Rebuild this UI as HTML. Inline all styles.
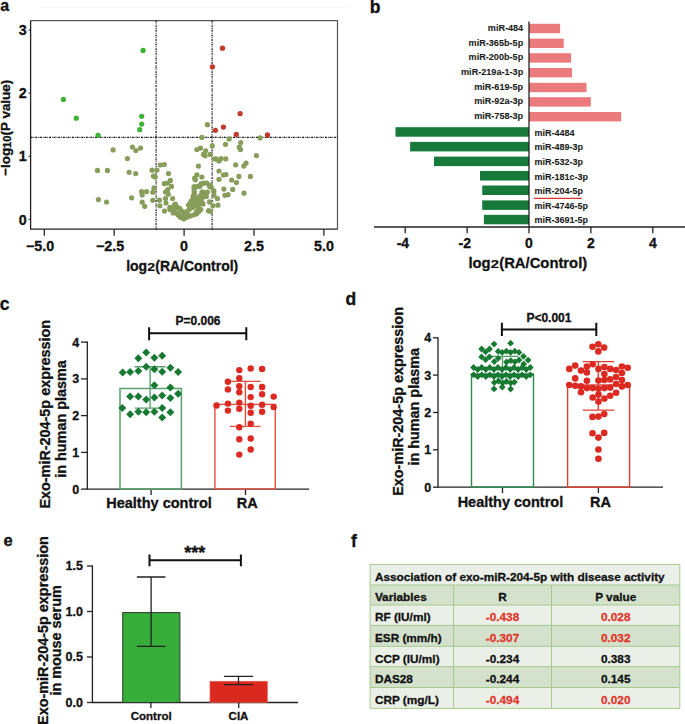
<!DOCTYPE html>
<html><head><meta charset="utf-8"><style>
html,body{margin:0;padding:0;background:#fff;}
svg{display:block;}
text{stroke:#111;stroke-width:0.3px;}
text.r{stroke:#e0352b;}
text.s{stroke-width:0.08px;}
</style></head><body>
<svg width="685" height="724" viewBox="0 0 685 724" font-family="Liberation Sans, sans-serif" font-weight="bold">
<rect width="685" height="724" fill="#fff"/>
<text x="0.3" y="11.1" font-size="16" text-anchor="start" fill="#111" >a</text>
<text x="369.8" y="12.8" font-size="17.5" text-anchor="start" fill="#111" >b</text>
<text x="-0.2" y="309.6" font-size="17.5" text-anchor="start" fill="#111" >c</text>
<text x="345.6" y="305.2" font-size="17.5" text-anchor="start" fill="#111" >d</text>
<text x="3.4" y="546.4" font-size="16.5" text-anchor="start" fill="#111" >e</text>
<text x="351.0" y="547.4" font-size="17.5" text-anchor="start" fill="#111" >f</text>
<line x1="39" y1="7.3" x2="347" y2="7.3" stroke="#f5f5f5" stroke-width="1"/>
<path d="M30.6 20.6H337.5V229.2" fill="none" stroke="#555" stroke-width="1.2"/>
<path d="M30.6 20.6V229.2H337.5" fill="none" stroke="#222" stroke-width="1.3"/>
<line x1="156.1" y1="20.6" x2="156.1" y2="229.2" stroke="#111" stroke-width="1.15" stroke-dasharray="2 0.9 0.8 0.9"/>
<line x1="212.1" y1="20.6" x2="212.1" y2="229.2" stroke="#111" stroke-width="1.15" stroke-dasharray="2 0.9 0.8 0.9"/>
<line x1="30.6" y1="137.3" x2="337.5" y2="137.3" stroke="#111" stroke-width="1.15" stroke-dasharray="2 0.9 0.8 0.9"/>
<line x1="44.3" y1="229.2" x2="44.3" y2="235.7" stroke="#222" stroke-width="1.3"/>
<text x="40.1" y="251.2" font-size="14.3" text-anchor="middle" fill="#111" >−5.0</text>
<line x1="114.2" y1="229.2" x2="114.2" y2="235.7" stroke="#222" stroke-width="1.3"/>
<text x="110.0" y="251.2" font-size="14.3" text-anchor="middle" fill="#111" >−2.5</text>
<line x1="184.1" y1="229.2" x2="184.1" y2="235.7" stroke="#222" stroke-width="1.3"/>
<text x="184.1" y="251.2" font-size="14.3" text-anchor="middle" fill="#111" >0</text>
<line x1="254.0" y1="229.2" x2="254.0" y2="235.7" stroke="#222" stroke-width="1.3"/>
<text x="254.0" y="251.2" font-size="14.3" text-anchor="middle" fill="#111" >2.5</text>
<line x1="323.9" y1="229.2" x2="323.9" y2="235.7" stroke="#222" stroke-width="1.3"/>
<text x="323.9" y="251.2" font-size="14.3" text-anchor="middle" fill="#111" >5.0</text>
<line x1="28.6" y1="219.4" x2="30.6" y2="219.4" stroke="#222" stroke-width="1"/>
<text x="26.8" y="224.5" font-size="14.3" text-anchor="end" fill="#111" >0</text>
<line x1="28.6" y1="156.3" x2="30.6" y2="156.3" stroke="#222" stroke-width="1"/>
<text x="26.8" y="161.4" font-size="14.3" text-anchor="end" fill="#111" >1</text>
<line x1="28.6" y1="93.2" x2="30.6" y2="93.2" stroke="#222" stroke-width="1"/>
<text x="26.8" y="98.3" font-size="14.3" text-anchor="end" fill="#111" >2</text>
<line x1="28.6" y1="30.1" x2="30.6" y2="30.1" stroke="#222" stroke-width="1"/>
<text x="26.8" y="35.2" font-size="14.3" text-anchor="end" fill="#111" >3</text>
<g transform="translate(126.2 271.2) scale(0.963 1)" fill="#111" font-size="14.5"><text x="0" y="0">log</text><text transform="translate(21.75 0) scale(1 0.74)">2</text><text x="30.2" y="0">(RA/Control)</text></g>
<text transform="translate(10.4 175.8) rotate(-90)" font-size="13.4" fill="#111">−log<tspan font-size="11.2" dy="0.7">10</tspan><tspan dy="-0.7">(P value)</tspan></text>
<circle cx="113.1" cy="149.9" r="2.6" fill="#879d5a"/>
<circle cx="132.4" cy="147.0" r="2.6" fill="#879d5a"/>
<circle cx="135.9" cy="150.5" r="2.6" fill="#879d5a"/>
<circle cx="140.5" cy="148.1" r="2.6" fill="#879d5a"/>
<circle cx="127.4" cy="158.6" r="2.6" fill="#879d5a"/>
<circle cx="97.5" cy="170.4" r="2.6" fill="#879d5a"/>
<circle cx="107.4" cy="170.4" r="2.6" fill="#879d5a"/>
<circle cx="98.4" cy="199.6" r="2.6" fill="#879d5a"/>
<circle cx="106.5" cy="202.0" r="2.6" fill="#879d5a"/>
<circle cx="129.1" cy="172.3" r="2.6" fill="#879d5a"/>
<circle cx="135.7" cy="173.6" r="2.6" fill="#879d5a"/>
<circle cx="152.1" cy="170.2" r="2.6" fill="#879d5a"/>
<circle cx="153.4" cy="176.1" r="2.6" fill="#879d5a"/>
<circle cx="131.6" cy="197.8" r="2.6" fill="#879d5a"/>
<circle cx="141.6" cy="191.6" r="2.6" fill="#879d5a"/>
<circle cx="146.5" cy="191.6" r="2.6" fill="#879d5a"/>
<circle cx="142.2" cy="195.0" r="2.6" fill="#879d5a"/>
<circle cx="142.2" cy="202.2" r="2.6" fill="#879d5a"/>
<circle cx="144.7" cy="206.3" r="2.6" fill="#879d5a"/>
<circle cx="152.8" cy="192.2" r="2.6" fill="#879d5a"/>
<circle cx="154.0" cy="187.9" r="2.6" fill="#879d5a"/>
<circle cx="152.8" cy="200.3" r="2.6" fill="#879d5a"/>
<circle cx="160.3" cy="165.0" r="2.6" fill="#879d5a"/>
<circle cx="164.3" cy="164.5" r="2.6" fill="#879d5a"/>
<circle cx="157.0" cy="170.0" r="2.6" fill="#879d5a"/>
<circle cx="155.3" cy="177.1" r="2.6" fill="#879d5a"/>
<circle cx="168.5" cy="173.6" r="2.6" fill="#879d5a"/>
<circle cx="170.4" cy="180.4" r="2.6" fill="#879d5a"/>
<circle cx="164.4" cy="183.7" r="2.6" fill="#879d5a"/>
<circle cx="167.7" cy="183.1" r="2.6" fill="#879d5a"/>
<circle cx="171.5" cy="186.4" r="2.6" fill="#879d5a"/>
<circle cx="165.5" cy="192.0" r="2.6" fill="#879d5a"/>
<circle cx="167.7" cy="189.7" r="2.6" fill="#879d5a"/>
<circle cx="168.2" cy="194.2" r="2.6" fill="#879d5a"/>
<circle cx="165.5" cy="198.6" r="2.6" fill="#879d5a"/>
<circle cx="172.6" cy="198.6" r="2.6" fill="#879d5a"/>
<circle cx="166.0" cy="203.0" r="2.6" fill="#879d5a"/>
<circle cx="159.4" cy="200.2" r="2.6" fill="#879d5a"/>
<circle cx="159.9" cy="205.8" r="2.6" fill="#879d5a"/>
<circle cx="164.4" cy="211.1" r="2.6" fill="#879d5a"/>
<circle cx="175.4" cy="204.1" r="2.6" fill="#879d5a"/>
<circle cx="169.9" cy="209.6" r="2.6" fill="#879d5a"/>
<circle cx="173.7" cy="208.5" r="2.6" fill="#879d5a"/>
<circle cx="173.2" cy="212.9" r="2.6" fill="#879d5a"/>
<circle cx="176.5" cy="207.4" r="2.6" fill="#879d5a"/>
<circle cx="179.8" cy="208.5" r="2.6" fill="#879d5a"/>
<circle cx="178.2" cy="215.1" r="2.6" fill="#879d5a"/>
<circle cx="180.9" cy="217.4" r="2.6" fill="#879d5a"/>
<circle cx="183.7" cy="219.0" r="2.6" fill="#879d5a"/>
<circle cx="185.3" cy="216.2" r="2.6" fill="#879d5a"/>
<circle cx="187.5" cy="214.0" r="2.6" fill="#879d5a"/>
<circle cx="183.1" cy="211.8" r="2.6" fill="#879d5a"/>
<circle cx="189.2" cy="209.6" r="2.6" fill="#879d5a"/>
<circle cx="189.7" cy="204.1" r="2.6" fill="#879d5a"/>
<circle cx="191.4" cy="200.8" r="2.6" fill="#879d5a"/>
<circle cx="193.1" cy="196.4" r="2.6" fill="#879d5a"/>
<circle cx="194.2" cy="192.0" r="2.6" fill="#879d5a"/>
<circle cx="194.2" cy="187.5" r="2.6" fill="#879d5a"/>
<circle cx="196.4" cy="211.8" r="2.6" fill="#879d5a"/>
<circle cx="198.6" cy="208.5" r="2.6" fill="#879d5a"/>
<circle cx="195.3" cy="205.2" r="2.6" fill="#879d5a"/>
<circle cx="197.5" cy="201.9" r="2.6" fill="#879d5a"/>
<circle cx="199.7" cy="198.6" r="2.6" fill="#879d5a"/>
<circle cx="201.9" cy="194.2" r="2.6" fill="#879d5a"/>
<circle cx="203.0" cy="192.0" r="2.6" fill="#879d5a"/>
<circle cx="202.4" cy="203.0" r="2.6" fill="#879d5a"/>
<circle cx="195.3" cy="179.8" r="2.6" fill="#879d5a"/>
<circle cx="196.9" cy="174.8" r="2.6" fill="#879d5a"/>
<circle cx="201.9" cy="177.0" r="2.6" fill="#879d5a"/>
<circle cx="198.4" cy="166.1" r="2.6" fill="#879d5a"/>
<circle cx="199.7" cy="186.4" r="2.6" fill="#879d5a"/>
<circle cx="201.9" cy="183.7" r="2.6" fill="#879d5a"/>
<circle cx="206.9" cy="183.1" r="2.6" fill="#879d5a"/>
<circle cx="209.6" cy="186.4" r="2.6" fill="#879d5a"/>
<circle cx="207.4" cy="192.0" r="2.6" fill="#879d5a"/>
<circle cx="214.0" cy="190.9" r="2.6" fill="#879d5a"/>
<circle cx="214.0" cy="195.3" r="2.6" fill="#879d5a"/>
<circle cx="217.4" cy="198.6" r="2.6" fill="#879d5a"/>
<circle cx="209.6" cy="201.9" r="2.6" fill="#879d5a"/>
<circle cx="212.9" cy="205.8" r="2.6" fill="#879d5a"/>
<circle cx="217.9" cy="205.2" r="2.6" fill="#879d5a"/>
<circle cx="208.5" cy="210.7" r="2.6" fill="#879d5a"/>
<circle cx="210.2" cy="154.4" r="2.6" fill="#879d5a"/>
<circle cx="203.5" cy="154.4" r="2.6" fill="#879d5a"/>
<circle cx="216.2" cy="158.8" r="2.6" fill="#879d5a"/>
<circle cx="219.0" cy="161.0" r="2.6" fill="#879d5a"/>
<circle cx="219.0" cy="171.0" r="2.6" fill="#879d5a"/>
<circle cx="219.0" cy="179.3" r="2.6" fill="#879d5a"/>
<circle cx="194.7" cy="178.2" r="2.6" fill="#879d5a"/>
<circle cx="201.9" cy="137.4" r="2.6" fill="#879d5a"/>
<circle cx="196.9" cy="149.5" r="2.6" fill="#879d5a"/>
<circle cx="200.5" cy="148.1" r="2.6" fill="#879d5a"/>
<circle cx="205.7" cy="150.8" r="2.6" fill="#879d5a"/>
<circle cx="205.1" cy="155.7" r="2.6" fill="#879d5a"/>
<circle cx="212.3" cy="145.9" r="2.6" fill="#879d5a"/>
<circle cx="214.5" cy="159.0" r="2.6" fill="#879d5a"/>
<circle cx="207.4" cy="124.7" r="2.6" fill="#879d5a"/>
<circle cx="229.1" cy="138.9" r="2.6" fill="#879d5a"/>
<circle cx="260.1" cy="137.9" r="2.6" fill="#879d5a"/>
<circle cx="225.5" cy="144.3" r="2.6" fill="#879d5a"/>
<circle cx="240.8" cy="142.6" r="2.6" fill="#879d5a"/>
<circle cx="239.3" cy="147.2" r="2.6" fill="#879d5a"/>
<circle cx="240.5" cy="149.6" r="2.6" fill="#879d5a"/>
<circle cx="256.4" cy="155.7" r="2.6" fill="#879d5a"/>
<circle cx="221.0" cy="158.6" r="2.6" fill="#879d5a"/>
<circle cx="225.8" cy="158.9" r="2.6" fill="#879d5a"/>
<circle cx="235.7" cy="164.8" r="2.6" fill="#879d5a"/>
<circle cx="246.0" cy="163.2" r="2.6" fill="#879d5a"/>
<circle cx="243.8" cy="166.1" r="2.6" fill="#879d5a"/>
<circle cx="223.4" cy="175.0" r="2.6" fill="#879d5a"/>
<circle cx="225.9" cy="174.5" r="2.6" fill="#879d5a"/>
<circle cx="238.9" cy="176.4" r="2.6" fill="#879d5a"/>
<circle cx="250.4" cy="176.4" r="2.6" fill="#879d5a"/>
<circle cx="231.7" cy="180.0" r="2.6" fill="#879d5a"/>
<circle cx="236.5" cy="182.5" r="2.6" fill="#879d5a"/>
<circle cx="223.9" cy="189.1" r="2.6" fill="#879d5a"/>
<circle cx="232.7" cy="189.4" r="2.6" fill="#879d5a"/>
<circle cx="244.0" cy="193.2" r="2.6" fill="#879d5a"/>
<circle cx="224.9" cy="195.3" r="2.6" fill="#879d5a"/>
<circle cx="228.0" cy="194.7" r="2.6" fill="#879d5a"/>
<circle cx="211.2" cy="187.2" r="2.6" fill="#879d5a"/>
<circle cx="210.6" cy="211.4" r="2.6" fill="#879d5a"/>
<circle cx="186.4" cy="211.8" r="2.6" fill="#879d5a"/>
<circle cx="193.1" cy="207.4" r="2.6" fill="#879d5a"/>
<circle cx="196.4" cy="205.2" r="2.6" fill="#879d5a"/>
<circle cx="199.7" cy="204.1" r="2.6" fill="#879d5a"/>
<circle cx="203" cy="204.1" r="2.6" fill="#879d5a"/>
<circle cx="192" cy="203" r="2.6" fill="#879d5a"/>
<circle cx="195.3" cy="200.8" r="2.6" fill="#879d5a"/>
<circle cx="198.6" cy="199.7" r="2.6" fill="#879d5a"/>
<circle cx="201.9" cy="198.6" r="2.6" fill="#879d5a"/>
<circle cx="194.2" cy="198.6" r="2.6" fill="#879d5a"/>
<circle cx="195.2" cy="197.2" r="2.6" fill="#879d5a"/>
<circle cx="199.7" cy="196.4" r="2.6" fill="#879d5a"/>
<circle cx="203" cy="196.4" r="2.6" fill="#879d5a"/>
<circle cx="194.2" cy="194.2" r="2.6" fill="#879d5a"/>
<circle cx="194.2" cy="189.7" r="2.6" fill="#879d5a"/>
<circle cx="194.2" cy="186.5" r="2.6" fill="#879d5a"/>
<circle cx="197.5" cy="186.4" r="2.6" fill="#879d5a"/>
<circle cx="200.8" cy="184.2" r="2.6" fill="#879d5a"/>
<circle cx="204.1" cy="183.1" r="2.6" fill="#879d5a"/>
<circle cx="210.2" cy="185.3" r="2.6" fill="#879d5a"/>
<circle cx="201.9" cy="192" r="2.6" fill="#879d5a"/>
<circle cx="204.1" cy="194.2" r="2.6" fill="#879d5a"/>
<circle cx="206.3" cy="196.4" r="2.6" fill="#879d5a"/>
<circle cx="179.8" cy="216.2" r="2.6" fill="#879d5a"/>
<circle cx="186.4" cy="217.4" r="2.6" fill="#879d5a"/>
<circle cx="189.7" cy="216.2" r="2.6" fill="#879d5a"/>
<circle cx="193.1" cy="215.1" r="2.6" fill="#879d5a"/>
<circle cx="196.4" cy="214" r="2.6" fill="#879d5a"/>
<circle cx="198.6" cy="211.8" r="2.6" fill="#879d5a"/>
<circle cx="200.8" cy="209.6" r="2.6" fill="#879d5a"/>
<circle cx="177.6" cy="214" r="2.6" fill="#879d5a"/>
<circle cx="175.4" cy="211.8" r="2.6" fill="#879d5a"/>
<circle cx="172.1" cy="209.6" r="2.6" fill="#879d5a"/>
<circle cx="169.9" cy="207.4" r="2.6" fill="#879d5a"/>
<circle cx="174.3" cy="205.2" r="2.6" fill="#879d5a"/>
<circle cx="177.6" cy="207.4" r="2.6" fill="#879d5a"/>
<circle cx="180.9" cy="210.7" r="2.6" fill="#879d5a"/>
<circle cx="184.2" cy="214" r="2.6" fill="#879d5a"/>
<circle cx="188.6" cy="205.2" r="2.6" fill="#879d5a"/>
<circle cx="190.9" cy="201.9" r="2.6" fill="#879d5a"/>
<circle cx="143.1" cy="50.4" r="2.6" fill="#3cb334"/>
<circle cx="63.4" cy="99.4" r="2.6" fill="#3cb334"/>
<circle cx="76.3" cy="118.2" r="2.6" fill="#3cb334"/>
<circle cx="141.7" cy="116.3" r="2.6" fill="#3cb334"/>
<circle cx="141.7" cy="124.1" r="2.6" fill="#3cb334"/>
<circle cx="139.7" cy="129.7" r="2.6" fill="#3cb334"/>
<circle cx="98.1" cy="135.3" r="2.6" fill="#3cb334"/>
<circle cx="222.5" cy="48.2" r="2.65" fill="#c0392a"/>
<circle cx="212.4" cy="66.8" r="2.65" fill="#c0392a"/>
<circle cx="240.1" cy="113.6" r="2.65" fill="#c0392a"/>
<circle cx="223.4" cy="127.1" r="2.65" fill="#c0392a"/>
<circle cx="215.4" cy="130.3" r="2.65" fill="#c0392a"/>
<circle cx="236.3" cy="134.4" r="2.65" fill="#c0392a"/>
<circle cx="267.5" cy="135.0" r="2.65" fill="#c0392a"/>
<rect x="529.0" y="23.8" width="31.1" height="9.4" fill="#eb7a7c"/>
<text x="523.2" y="30.8" font-size="9.1" text-anchor="end" fill="#1a1a1a" class="s" >miR-484</text>
<rect x="529.0" y="38.6" width="34.7" height="9.4" fill="#eb7a7c"/>
<text x="523.2" y="45.6" font-size="9.1" text-anchor="end" fill="#1a1a1a" class="s" >miR-365b-5p</text>
<rect x="529.0" y="53.2" width="42.1" height="9.4" fill="#eb7a7c"/>
<text x="523.2" y="60.2" font-size="9.1" text-anchor="end" fill="#1a1a1a" class="s" >miR-200b-5p</text>
<rect x="529.0" y="68.0" width="43.0" height="9.4" fill="#eb7a7c"/>
<text x="523.2" y="75.0" font-size="9.1" text-anchor="end" fill="#1a1a1a" class="s" >miR-219a-1-3p</text>
<rect x="529.0" y="82.8" width="57.5" height="9.4" fill="#eb7a7c"/>
<text x="523.2" y="89.8" font-size="9.1" text-anchor="end" fill="#1a1a1a" class="s" >miR-619-5p</text>
<rect x="529.0" y="97.2" width="61.8" height="9.4" fill="#eb7a7c"/>
<text x="523.2" y="104.2" font-size="9.1" text-anchor="end" fill="#1a1a1a" class="s" >miR-92a-3p</text>
<rect x="529.0" y="112.0" width="92.2" height="9.4" fill="#eb7a7c"/>
<text x="523.2" y="119.0" font-size="9.1" text-anchor="end" fill="#1a1a1a" class="s" >miR-758-3p</text>
<rect x="395.5" y="127.2" width="133.5" height="9.5" fill="#177a3b"/>
<text x="534.4" y="135.7" font-size="9" text-anchor="start" fill="#1a1a1a" class="s" >miR-4484</text>
<rect x="410.1" y="141.9" width="118.9" height="9.5" fill="#177a3b"/>
<text x="534.4" y="150.4" font-size="9" text-anchor="start" fill="#1a1a1a" class="s" >miR-489-3p</text>
<rect x="434.0" y="156.6" width="95.0" height="9.5" fill="#177a3b"/>
<text x="534.4" y="165.1" font-size="9" text-anchor="start" fill="#1a1a1a" class="s" >miR-532-3p</text>
<rect x="480.0" y="171.0" width="49.0" height="9.5" fill="#177a3b"/>
<text x="534.4" y="179.5" font-size="9" text-anchor="start" fill="#1a1a1a" class="s" >miR-181c-3p</text>
<rect x="482.2" y="185.5" width="46.8" height="9.5" fill="#177a3b"/>
<text x="534.4" y="194.0" font-size="9" text-anchor="start" fill="#1a1a1a" class="s" >miR-204-5p</text>
<rect x="482.2" y="200.4" width="46.8" height="9.5" fill="#177a3b"/>
<text x="534.4" y="208.9" font-size="9" text-anchor="start" fill="#1a1a1a" class="s" >miR-4746-5p</text>
<rect x="483.9" y="214.8" width="45.1" height="9.5" fill="#177a3b"/>
<text x="534.4" y="223.3" font-size="9" text-anchor="start" fill="#1a1a1a" class="s" >miR-3691-5p</text>
<line x1="533.8" y1="198.3" x2="581.7" y2="198.3" stroke="#e0312b" stroke-width="1.3"/>
<line x1="529.0" y1="21.4" x2="529.0" y2="227.4" stroke="#222" stroke-width="1.3"/>
<line x1="374" y1="227" x2="685" y2="227" stroke="#222" stroke-width="1.3"/>
<line x1="405.2" y1="227" x2="405.2" y2="233.3" stroke="#222" stroke-width="1.3"/>
<text x="402.9" y="247.8" font-size="14" text-anchor="middle" fill="#111" >-4</text>
<line x1="467.1" y1="227" x2="467.1" y2="233.3" stroke="#222" stroke-width="1.3"/>
<text x="464.8" y="247.8" font-size="14" text-anchor="middle" fill="#111" >-2</text>
<line x1="529.0" y1="227" x2="529.0" y2="233.3" stroke="#222" stroke-width="1.3"/>
<text x="529.0" y="247.8" font-size="14" text-anchor="middle" fill="#111" >0</text>
<line x1="590.9" y1="227" x2="590.9" y2="233.3" stroke="#222" stroke-width="1.3"/>
<text x="590.9" y="247.8" font-size="14" text-anchor="middle" fill="#111" >2</text>
<line x1="652.8" y1="227" x2="652.8" y2="233.3" stroke="#222" stroke-width="1.3"/>
<text x="652.8" y="247.8" font-size="14" text-anchor="middle" fill="#111" >4</text>
<g transform="translate(468.4 268.3) scale(0.975 1)" fill="#111" font-size="15.2"><text x="0" y="0">log</text><text transform="translate(22.8 0) scale(1 0.74)">2</text><text x="31.6" y="0">(RA/Control)</text></g>
<line x1="87.3" y1="341.5" x2="87.3" y2="489.1" stroke="#222" stroke-width="1.3"/>
<line x1="86.6" y1="489.1" x2="309" y2="489.1" stroke="#222" stroke-width="1.3"/>
<line x1="81" y1="489.1" x2="87.3" y2="489.1" stroke="#222" stroke-width="1.3"/>
<text x="79.2" y="493.5" font-size="12.5" text-anchor="end" fill="#111" >0</text>
<line x1="81" y1="452.4" x2="87.3" y2="452.4" stroke="#222" stroke-width="1.3"/>
<text x="79.2" y="456.8" font-size="12.5" text-anchor="end" fill="#111" >1</text>
<line x1="81" y1="415.6" x2="87.3" y2="415.6" stroke="#222" stroke-width="1.3"/>
<text x="79.2" y="420.0" font-size="12.5" text-anchor="end" fill="#111" >2</text>
<line x1="81" y1="378.9" x2="87.3" y2="378.9" stroke="#222" stroke-width="1.3"/>
<text x="79.2" y="383.2" font-size="12.5" text-anchor="end" fill="#111" >3</text>
<line x1="81" y1="342.1" x2="87.3" y2="342.1" stroke="#222" stroke-width="1.3"/>
<text x="79.2" y="346.5" font-size="12.5" text-anchor="end" fill="#111" >4</text>
<line x1="151.1" y1="489.1" x2="151.1" y2="495" stroke="#222" stroke-width="1.3"/>
<line x1="245.5" y1="489.1" x2="245.5" y2="495" stroke="#222" stroke-width="1.3"/>
<text x="159" y="508.2" font-size="14.5" text-anchor="middle" fill="#111" >Healthy control</text>
<text x="247.3" y="508.2" font-size="14.5" text-anchor="middle" fill="#111" >RA</text>
<text transform="translate(49.8 508.6) rotate(-90)" font-size="14.4" fill="#111">Exo-miR-204-5p expression</text>
<text transform="translate(65.6 419) rotate(-90)" font-size="14.4" fill="#111" text-anchor="middle">in human plasma</text>
<rect x="120" y="388.5" width="61.4" height="100.6" fill="none" stroke="#58a06c" stroke-width="1.5"/>
<rect x="214.9" y="404.4" width="60.4" height="84.7" fill="none" stroke="#e44e3e" stroke-width="1.4"/>
<path d="M149.1 327.2V340.3M149.1 333.3H246.3M246.3 327.2V340.3" stroke="#111" stroke-width="2" fill="none"/>
<text x="198" y="325.4" font-size="12" text-anchor="middle" fill="#111" >P=0.006</text>
<path d="M150.1 366.8V408.1M134.6 366.8H165.7M134.6 408.1H165.7" stroke="#58a06c" stroke-width="1.4" fill="none"/>
<path d="M146.2 348.5l4 4l-4 4l-4 -4z" fill="#187a32"/>
<path d="M138.3 354.2l4 4l-4 4l-4 -4z" fill="#187a32"/>
<path d="M154.4 353.8l4 4l-4 4l-4 -4z" fill="#187a32"/>
<path d="M162.2 351.8l4 4l-4 4l-4 -4z" fill="#187a32"/>
<path d="M122.7 368.5l4 4l-4 4l-4 -4z" fill="#187a32"/>
<path d="M130.1 368.1l4 4l-4 4l-4 -4z" fill="#187a32"/>
<path d="M138.3 366.9l4 4l-4 4l-4 -4z" fill="#187a32"/>
<path d="M146.2 362.8l4 4l-4 4l-4 -4z" fill="#187a32"/>
<path d="M154.4 365.2l4 4l-4 4l-4 -4z" fill="#187a32"/>
<path d="M162.2 367.7l4 4l-4 4l-4 -4z" fill="#187a32"/>
<path d="M170.4 363.8l4 4l-4 4l-4 -4z" fill="#187a32"/>
<path d="M178.1 367.9l4 4l-4 4l-4 -4z" fill="#187a32"/>
<path d="M154.4 381.2l4 4l-4 4l-4 -4z" fill="#187a32"/>
<path d="M170.4 383.6l4 4l-4 4l-4 -4z" fill="#187a32"/>
<path d="M178.1 389.8l4 4l-4 4l-4 -4z" fill="#187a32"/>
<path d="M130.1 392.4l4 4l-4 4l-4 -4z" fill="#187a32"/>
<path d="M138.3 392.4l4 4l-4 4l-4 -4z" fill="#187a32"/>
<path d="M146.2 395.5l4 4l-4 4l-4 -4z" fill="#187a32"/>
<path d="M154.4 393.4l4 4l-4 4l-4 -4z" fill="#187a32"/>
<path d="M162.2 391.4l4 4l-4 4l-4 -4z" fill="#187a32"/>
<path d="M170.4 393.9l4 4l-4 4l-4 -4z" fill="#187a32"/>
<path d="M122.3 404.1l4 4l-4 4l-4 -4z" fill="#187a32"/>
<path d="M130.1 410.2l4 4l-4 4l-4 -4z" fill="#187a32"/>
<path d="M138.3 407.7l4 4l-4 4l-4 -4z" fill="#187a32"/>
<path d="M146.2 408.2l4 4l-4 4l-4 -4z" fill="#187a32"/>
<path d="M154.4 407.7l4 4l-4 4l-4 -4z" fill="#187a32"/>
<path d="M162.2 404.1l4 4l-4 4l-4 -4z" fill="#187a32"/>
<path d="M170.4 408.2l4 4l-4 4l-4 -4z" fill="#187a32"/>
<path d="M162.2 413.5l4 4l-4 4l-4 -4z" fill="#187a32"/>
<path d="M245.4 381.4V426.4M229.8 381.4H260.7M229.8 426.4H260.7" stroke="#e44e3e" stroke-width="1.4" fill="none"/>
<circle cx="239.3" cy="370.1" r="3.2" fill="#dc2a22"/>
<circle cx="250.7" cy="368.5" r="3.2" fill="#dc2a22"/>
<circle cx="262.1" cy="369.0" r="3.2" fill="#dc2a22"/>
<circle cx="239.3" cy="378.2" r="3.2" fill="#dc2a22"/>
<circle cx="227.9" cy="381.7" r="3.2" fill="#dc2a22"/>
<circle cx="227.9" cy="389.4" r="3.2" fill="#dc2a22"/>
<circle cx="239.3" cy="386.2" r="3.2" fill="#dc2a22"/>
<circle cx="239.3" cy="392.3" r="3.2" fill="#dc2a22"/>
<circle cx="250.7" cy="387.0" r="3.2" fill="#dc2a22"/>
<circle cx="262.1" cy="387.0" r="3.2" fill="#dc2a22"/>
<circle cx="262.1" cy="394.2" r="3.2" fill="#dc2a22"/>
<circle cx="250.7" cy="397.1" r="3.2" fill="#dc2a22"/>
<circle cx="273.7" cy="396.6" r="3.2" fill="#dc2a22"/>
<circle cx="216.5" cy="405.5" r="3.2" fill="#dc2a22"/>
<circle cx="227.9" cy="403.6" r="3.2" fill="#dc2a22"/>
<circle cx="239.3" cy="402.6" r="3.2" fill="#dc2a22"/>
<circle cx="250.7" cy="405.8" r="3.2" fill="#dc2a22"/>
<circle cx="262.1" cy="404.7" r="3.2" fill="#dc2a22"/>
<circle cx="273.7" cy="407.1" r="3.2" fill="#dc2a22"/>
<circle cx="227.9" cy="410.6" r="3.2" fill="#dc2a22"/>
<circle cx="239.3" cy="408.7" r="3.2" fill="#dc2a22"/>
<circle cx="250.7" cy="412.7" r="3.2" fill="#dc2a22"/>
<circle cx="262.1" cy="411.8" r="3.2" fill="#dc2a22"/>
<circle cx="250.7" cy="423.7" r="3.2" fill="#dc2a22"/>
<circle cx="239.3" cy="427.3" r="3.2" fill="#dc2a22"/>
<circle cx="239.3" cy="439.3" r="3.2" fill="#dc2a22"/>
<circle cx="250.7" cy="438.5" r="3.2" fill="#dc2a22"/>
<circle cx="250.7" cy="449.5" r="3.2" fill="#dc2a22"/>
<circle cx="239.3" cy="454.6" r="3.2" fill="#dc2a22"/>
<line x1="438" y1="337.2" x2="438" y2="487.2" stroke="#222" stroke-width="1.3"/>
<line x1="437.3" y1="487.2" x2="663" y2="487.2" stroke="#222" stroke-width="1.3"/>
<line x1="433" y1="487.2" x2="438" y2="487.2" stroke="#222" stroke-width="1.3"/>
<text x="431.2" y="491.6" font-size="12.5" text-anchor="end" fill="#111" >0</text>
<line x1="433" y1="449.8" x2="438" y2="449.8" stroke="#222" stroke-width="1.3"/>
<text x="431.2" y="454.2" font-size="12.5" text-anchor="end" fill="#111" >1</text>
<line x1="433" y1="412.5" x2="438" y2="412.5" stroke="#222" stroke-width="1.3"/>
<text x="431.2" y="416.9" font-size="12.5" text-anchor="end" fill="#111" >2</text>
<line x1="433" y1="375.1" x2="438" y2="375.1" stroke="#222" stroke-width="1.3"/>
<text x="431.2" y="379.5" font-size="12.5" text-anchor="end" fill="#111" >3</text>
<line x1="433" y1="337.8" x2="438" y2="337.8" stroke="#222" stroke-width="1.3"/>
<text x="431.2" y="342.2" font-size="12.5" text-anchor="end" fill="#111" >4</text>
<line x1="502.5" y1="487.2" x2="502.5" y2="493" stroke="#222" stroke-width="1.3"/>
<line x1="598.4" y1="487.2" x2="598.4" y2="493" stroke="#222" stroke-width="1.3"/>
<text x="510.4" y="507" font-size="14.5" text-anchor="middle" fill="#111" >Healthy control</text>
<text x="600.6" y="507" font-size="14.5" text-anchor="middle" fill="#111" >RA</text>
<text transform="translate(402.7 495.8) rotate(-90)" font-size="14.4" fill="#111">Exo-miR-204-5p expression</text>
<text transform="translate(418.7 406.8) rotate(-90)" font-size="14.4" fill="#111" text-anchor="middle">in human plasma</text>
<rect x="471.5" y="374" width="62" height="113.2" fill="none" stroke="#2e8b4f" stroke-width="1.4"/>
<rect x="567.6" y="385" width="62" height="102.2" fill="none" stroke="#e0402f" stroke-width="1.4"/>
<path d="M501.9 322.8V335.9M501.9 329.4H596.3M596.3 322.8V335.9" stroke="#111" stroke-width="2" fill="none"/>
<text x="548.9" y="321.9" font-size="12" text-anchor="middle" fill="#111" >P&lt;0.001</text>
<path d="M502.5 356.3V376M487 356.3H518" stroke="#4a9a62" stroke-width="1.2" fill="none"/>
<path d="M494.1 340.70000000000005l3.4 3.4l-3.4 3.4l-3.4 -3.4z" fill="#187a32"/>
<path d="M510.6 339.8l3.4 3.4l-3.4 3.4l-3.4 -3.4z" fill="#187a32"/>
<path d="M481.6 345.6l3.4 3.4l-3.4 3.4l-3.4 -3.4z" fill="#187a32"/>
<path d="M485.6 348.40000000000003l3.4 3.4l-3.4 3.4l-3.4 -3.4z" fill="#187a32"/>
<path d="M489.5 345.6l3.4 3.4l-3.4 3.4l-3.4 -3.4z" fill="#187a32"/>
<path d="M498.2 348.0l3.4 3.4l-3.4 3.4l-3.4 -3.4z" fill="#187a32"/>
<path d="M502.2 349.0l3.4 3.4l-3.4 3.4l-3.4 -3.4z" fill="#187a32"/>
<path d="M506.4 347.8l3.4 3.4l-3.4 3.4l-3.4 -3.4z" fill="#187a32"/>
<path d="M510.6 349.0l3.4 3.4l-3.4 3.4l-3.4 -3.4z" fill="#187a32"/>
<path d="M514.8 347.8l3.4 3.4l-3.4 3.4l-3.4 -3.4z" fill="#187a32"/>
<path d="M519 349.0l3.4 3.4l-3.4 3.4l-3.4 -3.4z" fill="#187a32"/>
<path d="M523.5 352.90000000000003l3.4 3.4l-3.4 3.4l-3.4 -3.4z" fill="#187a32"/>
<path d="M528.1 356.70000000000005l3.4 3.4l-3.4 3.4l-3.4 -3.4z" fill="#187a32"/>
<path d="M481.6 353.5l3.4 3.4l-3.4 3.4l-3.4 -3.4z" fill="#187a32"/>
<path d="M485.6 356.3l3.4 3.4l-3.4 3.4l-3.4 -3.4z" fill="#187a32"/>
<path d="M489.5 353.5l3.4 3.4l-3.4 3.4l-3.4 -3.4z" fill="#187a32"/>
<path d="M494.3 358.20000000000005l3.4 3.4l-3.4 3.4l-3.4 -3.4z" fill="#187a32"/>
<path d="M498.2 354.90000000000003l3.4 3.4l-3.4 3.4l-3.4 -3.4z" fill="#187a32"/>
<path d="M506.5 358.6l3.4 3.4l-3.4 3.4l-3.4 -3.4z" fill="#187a32"/>
<path d="M510.8 357.20000000000005l3.4 3.4l-3.4 3.4l-3.4 -3.4z" fill="#187a32"/>
<path d="M514.9 358.40000000000003l3.4 3.4l-3.4 3.4l-3.4 -3.4z" fill="#187a32"/>
<path d="M519 356.6l3.4 3.4l-3.4 3.4l-3.4 -3.4z" fill="#187a32"/>
<path d="M523.7 360.6l3.4 3.4l-3.4 3.4l-3.4 -3.4z" fill="#187a32"/>
<path d="M473.6 364.1l3.4 3.4l-3.4 3.4l-3.4 -3.4z" fill="#187a32"/>
<path d="M473.6 371.40000000000003l3.4 3.4l-3.4 3.4l-3.4 -3.4z" fill="#187a32"/>
<path d="M477.7 366.1l3.4 3.4l-3.4 3.4l-3.4 -3.4z" fill="#187a32"/>
<path d="M477.7 373.20000000000005l3.4 3.4l-3.4 3.4l-3.4 -3.4z" fill="#187a32"/>
<path d="M481.7 364.1l3.4 3.4l-3.4 3.4l-3.4 -3.4z" fill="#187a32"/>
<path d="M481.7 371.40000000000003l3.4 3.4l-3.4 3.4l-3.4 -3.4z" fill="#187a32"/>
<path d="M485.8 366.1l3.4 3.4l-3.4 3.4l-3.4 -3.4z" fill="#187a32"/>
<path d="M485.8 373.20000000000005l3.4 3.4l-3.4 3.4l-3.4 -3.4z" fill="#187a32"/>
<path d="M489.8 364.1l3.4 3.4l-3.4 3.4l-3.4 -3.4z" fill="#187a32"/>
<path d="M489.8 371.40000000000003l3.4 3.4l-3.4 3.4l-3.4 -3.4z" fill="#187a32"/>
<path d="M493.9 366.1l3.4 3.4l-3.4 3.4l-3.4 -3.4z" fill="#187a32"/>
<path d="M493.9 373.20000000000005l3.4 3.4l-3.4 3.4l-3.4 -3.4z" fill="#187a32"/>
<path d="M497.9 364.1l3.4 3.4l-3.4 3.4l-3.4 -3.4z" fill="#187a32"/>
<path d="M497.9 371.40000000000003l3.4 3.4l-3.4 3.4l-3.4 -3.4z" fill="#187a32"/>
<path d="M502.0 366.1l3.4 3.4l-3.4 3.4l-3.4 -3.4z" fill="#187a32"/>
<path d="M502.0 373.20000000000005l3.4 3.4l-3.4 3.4l-3.4 -3.4z" fill="#187a32"/>
<path d="M506.0 364.1l3.4 3.4l-3.4 3.4l-3.4 -3.4z" fill="#187a32"/>
<path d="M506.0 371.40000000000003l3.4 3.4l-3.4 3.4l-3.4 -3.4z" fill="#187a32"/>
<path d="M510.1 366.1l3.4 3.4l-3.4 3.4l-3.4 -3.4z" fill="#187a32"/>
<path d="M510.1 373.20000000000005l3.4 3.4l-3.4 3.4l-3.4 -3.4z" fill="#187a32"/>
<path d="M514.1 364.1l3.4 3.4l-3.4 3.4l-3.4 -3.4z" fill="#187a32"/>
<path d="M514.1 371.40000000000003l3.4 3.4l-3.4 3.4l-3.4 -3.4z" fill="#187a32"/>
<path d="M518.1 366.1l3.4 3.4l-3.4 3.4l-3.4 -3.4z" fill="#187a32"/>
<path d="M518.1 373.20000000000005l3.4 3.4l-3.4 3.4l-3.4 -3.4z" fill="#187a32"/>
<path d="M522.2 364.1l3.4 3.4l-3.4 3.4l-3.4 -3.4z" fill="#187a32"/>
<path d="M522.2 371.40000000000003l3.4 3.4l-3.4 3.4l-3.4 -3.4z" fill="#187a32"/>
<path d="M526.2 366.1l3.4 3.4l-3.4 3.4l-3.4 -3.4z" fill="#187a32"/>
<path d="M526.2 373.20000000000005l3.4 3.4l-3.4 3.4l-3.4 -3.4z" fill="#187a32"/>
<path d="M530.3 364.1l3.4 3.4l-3.4 3.4l-3.4 -3.4z" fill="#187a32"/>
<path d="M530.3 371.40000000000003l3.4 3.4l-3.4 3.4l-3.4 -3.4z" fill="#187a32"/>
<path d="M494.3 379.20000000000005l3.4 3.4l-3.4 3.4l-3.4 -3.4z" fill="#187a32"/>
<path d="M498.5 377.6l3.4 3.4l-3.4 3.4l-3.4 -3.4z" fill="#187a32"/>
<path d="M502.7 379.6l3.4 3.4l-3.4 3.4l-3.4 -3.4z" fill="#187a32"/>
<path d="M506.5 378.1l3.4 3.4l-3.4 3.4l-3.4 -3.4z" fill="#187a32"/>
<path d="M510.7 379.6l3.4 3.4l-3.4 3.4l-3.4 -3.4z" fill="#187a32"/>
<path d="M514.4 378.70000000000005l3.4 3.4l-3.4 3.4l-3.4 -3.4z" fill="#187a32"/>
<path d="M494 385.5l3.4 3.4l-3.4 3.4l-3.4 -3.4z" fill="#187a32"/>
<path d="M502.3 383.70000000000005l3.4 3.4l-3.4 3.4l-3.4 -3.4z" fill="#187a32"/>
<path d="M510.6 385.6l3.4 3.4l-3.4 3.4l-3.4 -3.4z" fill="#187a32"/>
<path d="M598.3 361.6V410.1M582.8 361.6H614.3M582.8 410.1H614.3" stroke="#e0402f" stroke-width="1.4" fill="none"/>
<circle cx="592.5" cy="346.7" r="3.3" fill="#dc2a22"/>
<circle cx="598.3" cy="344.3" r="3.3" fill="#dc2a22"/>
<circle cx="604.1" cy="347.6" r="3.3" fill="#dc2a22"/>
<circle cx="598.3" cy="351.4" r="3.3" fill="#dc2a22"/>
<circle cx="569.3" cy="368.9" r="3.3" fill="#dc2a22"/>
<circle cx="575.2" cy="365.6" r="3.3" fill="#dc2a22"/>
<circle cx="581" cy="370.6" r="3.3" fill="#dc2a22"/>
<circle cx="586.9" cy="366.5" r="3.3" fill="#dc2a22"/>
<circle cx="592.7" cy="364.2" r="3.3" fill="#dc2a22"/>
<circle cx="586.9" cy="372.4" r="3.3" fill="#dc2a22"/>
<circle cx="598.5" cy="368.9" r="3.3" fill="#dc2a22"/>
<circle cx="604.4" cy="367.1" r="3.3" fill="#dc2a22"/>
<circle cx="610.2" cy="368.9" r="3.3" fill="#dc2a22"/>
<circle cx="616.1" cy="370" r="3.3" fill="#dc2a22"/>
<circle cx="621.9" cy="366.5" r="3.3" fill="#dc2a22"/>
<circle cx="627.7" cy="367.7" r="3.3" fill="#dc2a22"/>
<circle cx="604.4" cy="374.1" r="3.3" fill="#dc2a22"/>
<circle cx="621.9" cy="373" r="3.3" fill="#dc2a22"/>
<circle cx="575.2" cy="378.4" r="3.3" fill="#dc2a22"/>
<circle cx="586.9" cy="380.8" r="3.3" fill="#dc2a22"/>
<circle cx="598.5" cy="380.5" r="3.3" fill="#dc2a22"/>
<circle cx="604.4" cy="380" r="3.3" fill="#dc2a22"/>
<circle cx="610.2" cy="379.4" r="3.3" fill="#dc2a22"/>
<circle cx="616.1" cy="377" r="3.3" fill="#dc2a22"/>
<circle cx="621.9" cy="380" r="3.3" fill="#dc2a22"/>
<circle cx="569.3" cy="385" r="3.3" fill="#dc2a22"/>
<circle cx="575.2" cy="385.8" r="3.3" fill="#dc2a22"/>
<circle cx="581" cy="386.4" r="3.3" fill="#dc2a22"/>
<circle cx="586.9" cy="388.1" r="3.3" fill="#dc2a22"/>
<circle cx="592.7" cy="388.1" r="3.3" fill="#dc2a22"/>
<circle cx="598.5" cy="388.7" r="3.3" fill="#dc2a22"/>
<circle cx="604.4" cy="388.1" r="3.3" fill="#dc2a22"/>
<circle cx="610.2" cy="387.6" r="3.3" fill="#dc2a22"/>
<circle cx="616.1" cy="384" r="3.3" fill="#dc2a22"/>
<circle cx="621.9" cy="386.4" r="3.3" fill="#dc2a22"/>
<circle cx="627.7" cy="385" r="3.3" fill="#dc2a22"/>
<circle cx="581" cy="392.2" r="3.3" fill="#dc2a22"/>
<circle cx="592.7" cy="397.5" r="3.3" fill="#dc2a22"/>
<circle cx="598.5" cy="394.6" r="3.3" fill="#dc2a22"/>
<circle cx="604.4" cy="398.6" r="3.3" fill="#dc2a22"/>
<circle cx="610.2" cy="395.7" r="3.3" fill="#dc2a22"/>
<circle cx="616.1" cy="392.8" r="3.3" fill="#dc2a22"/>
<circle cx="598.5" cy="401.6" r="3.3" fill="#dc2a22"/>
<circle cx="592.5" cy="416.9" r="3.3" fill="#dc2a22"/>
<circle cx="598.4" cy="416.6" r="3.3" fill="#dc2a22"/>
<circle cx="604.2" cy="414.1" r="3.3" fill="#dc2a22"/>
<circle cx="592.5" cy="433.2" r="3.3" fill="#dc2a22"/>
<circle cx="598.4" cy="437.6" r="3.3" fill="#dc2a22"/>
<circle cx="604.2" cy="432.9" r="3.3" fill="#dc2a22"/>
<circle cx="598.4" cy="449.5" r="3.3" fill="#dc2a22"/>
<circle cx="598.4" cy="458.7" r="3.3" fill="#dc2a22"/>
<line x1="92.4" y1="565.4" x2="92.4" y2="702.5" stroke="#222" stroke-width="1.3"/>
<line x1="91.8" y1="702.5" x2="298" y2="702.5" stroke="#222" stroke-width="1.3"/>
<line x1="87" y1="702.5" x2="92.4" y2="702.5" stroke="#222" stroke-width="1.3"/>
<text x="82.9" y="706.9" font-size="12.5" text-anchor="end" fill="#111" >0.0</text>
<line x1="87" y1="657.0" x2="92.4" y2="657.0" stroke="#222" stroke-width="1.3"/>
<text x="82.9" y="661.4" font-size="12.5" text-anchor="end" fill="#111" >0.5</text>
<line x1="87" y1="611.5" x2="92.4" y2="611.5" stroke="#222" stroke-width="1.3"/>
<text x="82.9" y="615.9" font-size="12.5" text-anchor="end" fill="#111" >1.0</text>
<line x1="87" y1="566.0" x2="92.4" y2="566.0" stroke="#222" stroke-width="1.3"/>
<text x="82.9" y="570.4" font-size="12.5" text-anchor="end" fill="#111" >1.5</text>
<rect x="122.7" y="612.6" width="57.2" height="89.9" fill="#36ae39" stroke="#333" stroke-width="1"/>
<rect x="210" y="681.3" width="57.3" height="21.2" fill="#da2a20" stroke="#e5564c" stroke-width="0.7"/>
<line x1="150.9" y1="702.5" x2="150.9" y2="708" stroke="#222" stroke-width="1.3"/>
<line x1="238.7" y1="702.5" x2="238.7" y2="708" stroke="#222" stroke-width="1.3"/>
<path d="M151.1 577V646.3M136.9 577H165.4M136.9 646.3H165.4" stroke="#222" stroke-width="1.3" fill="none"/>
<path d="M238.5 676.4V684.6M223.9 676.4H253.1M223.9 684.6H253.1" stroke="#222" stroke-width="1.3" fill="none"/>
<path d="M149.5 554.5V566.2M149.5 560.3H240.9M240.9 554.5V566.2" stroke="#111" stroke-width="2" fill="none"/>
<text x="194.8" y="559.2" font-size="18" text-anchor="middle" fill="#111" >***</text>
<text x="151.2" y="720.3" font-size="11.5" text-anchor="middle" fill="#111" >Control</text>
<text x="238.5" y="720.3" font-size="11.5" text-anchor="middle" fill="#111" >CIA</text>
<text transform="translate(47.6 724.9) rotate(-90)" font-size="14.4" fill="#111">Exo-miR-204-5p expression</text>
<text transform="translate(60.8 640.4) rotate(-90)" font-size="14.4" fill="#111" text-anchor="middle">in mouse serum</text>
<rect x="370.1" y="564.4" width="309.7" height="20.6" fill="#eaf0e8"/>
<rect x="370.1" y="585" width="309.7" height="20.0" fill="#d4e2cd"/>
<rect x="370.1" y="605" width="309.7" height="20.4" fill="#eaf0e8"/>
<rect x="370.1" y="625.4" width="309.7" height="20.9" fill="#d4e2cd"/>
<rect x="370.1" y="646.3" width="309.7" height="20.3" fill="#eaf0e8"/>
<rect x="370.1" y="666.6" width="309.7" height="20.9" fill="#d4e2cd"/>
<rect x="370.1" y="687.5" width="309.7" height="20.9" fill="#eaf0e8"/>
<line x1="370.1" y1="564.4" x2="679.8" y2="564.4" stroke="#a5ca8c" stroke-width="1"/>
<line x1="370.1" y1="585" x2="679.8" y2="585" stroke="#a5ca8c" stroke-width="1"/>
<line x1="370.1" y1="605" x2="679.8" y2="605" stroke="#a5ca8c" stroke-width="1"/>
<line x1="370.1" y1="625.4" x2="679.8" y2="625.4" stroke="#a5ca8c" stroke-width="1"/>
<line x1="370.1" y1="646.3" x2="679.8" y2="646.3" stroke="#a5ca8c" stroke-width="1"/>
<line x1="370.1" y1="666.6" x2="679.8" y2="666.6" stroke="#a5ca8c" stroke-width="1"/>
<line x1="370.1" y1="687.5" x2="679.8" y2="687.5" stroke="#a5ca8c" stroke-width="1"/>
<line x1="370.1" y1="708.4" x2="679.8" y2="708.4" stroke="#a5ca8c" stroke-width="1"/>
<line x1="370.1" y1="564.4" x2="370.1" y2="708.4" stroke="#a5ca8c" stroke-width="1"/>
<line x1="679.8" y1="564.4" x2="679.8" y2="708.4" stroke="#a5ca8c" stroke-width="1"/>
<line x1="453.6" y1="585" x2="453.6" y2="708.4" stroke="#a5ca8c" stroke-width="1"/>
<line x1="551.5" y1="585" x2="551.5" y2="708.4" stroke="#a5ca8c" stroke-width="1"/>
<text x="374.9" y="580.5" font-size="11.8" text-anchor="start" fill="#111" >Association of exo-miR-204-5p with disease activity</text>
<text x="374.9" y="601.4" font-size="11.8" text-anchor="start" fill="#111" >Variables</text>
<text x="502.5" y="601.4" font-size="11.8" text-anchor="middle" fill="#111" >R</text>
<text x="615.7" y="601.4" font-size="11.8" text-anchor="middle" fill="#111" >P value</text>
<text x="374.9" y="621.4" font-size="11.8" text-anchor="start" fill="#111" >RF (IU/ml)</text>
<text x="502.5" y="621.4" font-size="11.8" text-anchor="middle" fill="#e0352b" class="r" >-0.438</text>
<text x="615.7" y="621.4" font-size="11.8" text-anchor="middle" fill="#e0352b" class="r" >0.028</text>
<text x="374.9" y="641.8" font-size="11.8" text-anchor="start" fill="#111" >ESR (mm/h)</text>
<text x="502.5" y="641.8" font-size="11.8" text-anchor="middle" fill="#e0352b" class="r" >-0.307</text>
<text x="615.7" y="641.8" font-size="11.8" text-anchor="middle" fill="#e0352b" class="r" >0.032</text>
<text x="374.9" y="662.7" font-size="11.8" text-anchor="start" fill="#111" >CCP (IU/ml)</text>
<text x="502.5" y="662.7" font-size="11.8" text-anchor="middle" fill="#111" >-0.234</text>
<text x="615.7" y="662.7" font-size="11.8" text-anchor="middle" fill="#111" >0.383</text>
<text x="374.9" y="683.0" font-size="11.8" text-anchor="start" fill="#111" >DAS28</text>
<text x="502.5" y="683.0" font-size="11.8" text-anchor="middle" fill="#111" >-0.244</text>
<text x="615.7" y="683.0" font-size="11.8" text-anchor="middle" fill="#111" >0.145</text>
<text x="374.9" y="703.9" font-size="11.8" text-anchor="start" fill="#111" >CRP (mg/L)</text>
<text x="502.5" y="703.9" font-size="11.8" text-anchor="middle" fill="#e0352b" class="r" >-0.494</text>
<text x="615.7" y="703.9" font-size="11.8" text-anchor="middle" fill="#e0352b" class="r" >0.020</text>
</svg>
</body></html>
